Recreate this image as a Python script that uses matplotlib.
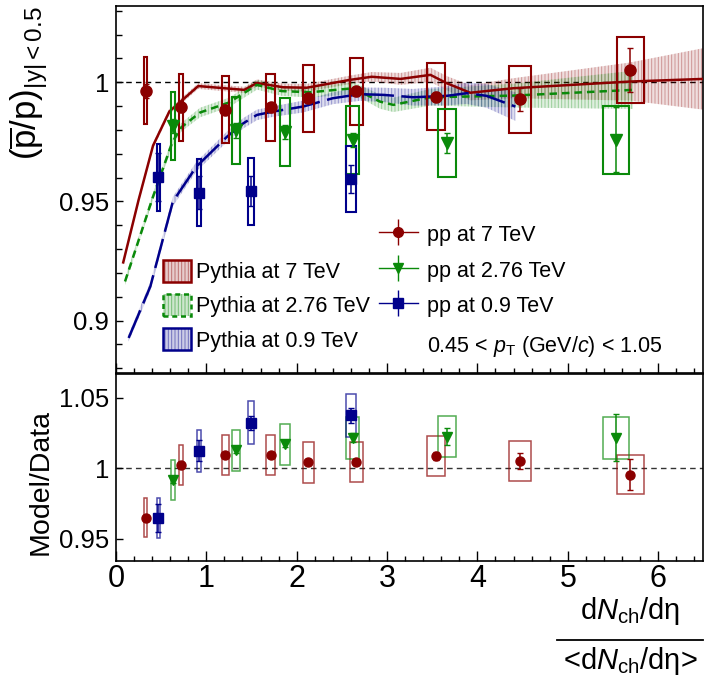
import numpy as np
import matplotlib.pyplot as plt
from matplotlib.patches import Rectangle, Patch
from matplotlib.lines import Line2D
from matplotlib.legend_handler import HandlerErrorbar
from matplotlib.ticker import MultipleLocator, FixedLocator
from matplotlib.colors import to_rgba

plt.rcParams['font.family'] = ['Liberation Sans', 'DejaVu Sans']
plt.rcParams['mathtext.fontset'] = 'custom'
plt.rcParams['mathtext.rm'] = 'Liberation Sans'
plt.rcParams['mathtext.it'] = 'Liberation Sans:italic'
plt.rcParams['mathtext.bf'] = 'Liberation Sans:bold'
plt.rcParams['hatch.linewidth'] = 0.7

# --- data: pbar/p vs dNch/deta / <dNch/deta> ---
x_7 = [0.33, 0.72, 1.21, 1.71, 2.13, 2.66, 3.54, 4.47, 5.69]
ratio_7 = [0.9964, 0.9895, 0.9885, 0.9895, 0.9932, 0.9962, 0.9940, 0.9929, 1.0051]
stat_7 = [0.003, 0.002, 0.002, 0.002, 0.002, 0.002, 0.002, 0.0048, 0.0094]
sys_7 = [0.014, 0.014, 0.014, 0.014, 0.014, 0.014, 0.014, 0.014, 0.014]

x_276 = [0.63, 1.33, 1.87, 2.62, 3.66, 5.53]
ratio_276 = [0.9815, 0.9798, 0.9790, 0.9757, 0.9745, 0.9759]
stat_276 = [0.003, 0.003, 0.003, 0.003, 0.0042, 0.0137]
sys_276 = [0.0142, 0.0142, 0.0142, 0.0142, 0.0142, 0.0142]

x_09 = [0.47, 0.92, 1.49, 2.60]
ratio_09 = [0.9601, 0.9537, 0.9543, 0.9594]
stat_09 = [0.0101, 0.007, 0.0062, 0.006]
sys_09 = [0.014, 0.014, 0.014, 0.014]

# --- Pythia curves ---
py_x_7 = [0.08, 0.25, 0.41, 0.59, 0.91, 1.42, 1.56, 1.85, 2.11, 2.59, 2.83, 3.15, 3.48, 3.66, 3.92, 4.40, 5.69, 6.50]
py_y_7 = [0.9244, 0.9506, 0.9734, 0.9877, 0.9984, 0.9968, 0.9997, 0.9979, 0.9977, 1.0010, 1.0023, 1.0014,
          1.0031, 0.9996, 0.9956, 0.9975, 1.0003, 1.0014]
py_band_7 = [0.0012, 0.0012, 0.0012, 0.0012, 0.0012, 0.0013, 0.0015, 0.0015, 0.0016, 0.0018, 0.002, 0.0025,
             0.003, 0.003, 0.0032, 0.0042, 0.008, 0.0129]

py_x_276 = [0.10, 0.41, 0.62, 0.72, 0.93, 1.25, 1.56, 1.83, 2.15, 2.63, 2.92, 3.07, 3.48, 4.40, 5.72]
py_y_276 = [0.9164, 0.9520, 0.9745, 0.9810, 0.9873, 0.9915, 0.9989, 0.9963, 0.9958, 0.9975, 0.9919, 0.9905,
            0.9937, 0.9944, 0.9968]
py_band_276 = [0.0015, 0.0015, 0.0018, 0.0018, 0.002, 0.002, 0.002, 0.002, 0.0022, 0.0025, 0.003, 0.003,
               0.0035, 0.005, 0.008]

py_x_09 = [0.14, 0.38, 0.63, 0.89, 1.23, 1.41, 1.56, 1.74, 2.07, 2.40, 2.70, 2.96, 3.29, 3.66, 3.88, 4.10, 4.42]
py_y_09 = [0.8927, 0.9143, 0.9500, 0.9646, 0.9772, 0.9828, 0.9863, 0.9877, 0.9898, 0.9933, 0.9950, 0.9947,
           0.9937, 0.9943, 0.9954, 0.9943, 0.9898]
py_band_09 = [0.0015, 0.0018, 0.002, 0.002, 0.0022, 0.0022, 0.0022, 0.0022, 0.0025, 0.0025, 0.0028, 0.003,
              0.0035, 0.004, 0.0045, 0.005, 0.006]

# --- model / data ---
md_7 = [0.9647, 1.0021, 1.0093, 1.0093, 1.0041, 1.0045, 1.0085, 1.0049, 0.9954]
md_stat_7 = [0.002, 0.002, 0.002, 0.002, 0.002, 0.002, 0.003, 0.0058, 0.011]
md_sys_7 = [0.0138, 0.0143, 0.0143, 0.0143, 0.0143, 0.0142, 0.0143, 0.0143, 0.014]

md_276 = [0.9917, 1.0128, 1.0170, 1.0216, 1.0224, 1.0216]
md_stat_276 = [0.002, 0.002, 0.002, 0.0033, 0.0059, 0.0166]
md_sys_276 = [0.0142, 0.0147, 0.0147, 0.015, 0.0147, 0.0148]

md_09 = [0.9647, 1.0125, 1.0323, 1.0376]
md_stat_09 = [0.010, 0.0074, 0.0048, 0.0055]
md_sys_09 = [0.0142, 0.015, 0.0154, 0.0153]

RED, GREEN, BLUE = '#8b0000', '#0a8a0a', '#00008b'


def draw_points(ax, x, y, stat, sys, color, marker, ms, wfrac, box_lw, box_alpha):
    for xi, yi, si in zip(x, y, sys):
        w = wfrac * xi + 0.015
        ax.add_patch(Rectangle((xi - w / 2, yi - si), w, 2 * si, fill=False,
                               edgecolor=color, lw=box_lw, alpha=box_alpha, zorder=4))
    ax.errorbar(x, y, yerr=stat, fmt=marker, color=color, ms=ms, elinewidth=1.1,
                capsize=2.5, capthick=1.0, zorder=5)


def draw_model(ax, x, y, band, color, ls):
    x = np.asarray(x)
    y = np.asarray(y)
    b = np.asarray(band)
    ax.fill_between(x, y - b, y + b, facecolor=to_rgba(color, 0.13),
                    edgecolor=to_rgba(color, 0.33), hatch='|||||', lw=0, zorder=2)
    ax.plot(x, y, color=color, ls=ls, lw=1.8, zorder=3)


fig = plt.figure(figsize=(7.06, 6.81), dpi=100)
ax_top = fig.add_axes([0.1643, 0.4523, 0.8319, 0.5389])
ax_bot = fig.add_axes([0.1643, 0.1762, 0.8319, 0.2746])

# --- top panel ---
ax_top.axhline(1.0, color='black', lw=1, ls=(0, (4, 3)), zorder=1)
draw_model(ax_top, py_x_7, py_y_7, py_band_7, RED, '-')
draw_model(ax_top, py_x_276, py_y_276, py_band_276, GREEN, (0, (3, 2)))
draw_model(ax_top, py_x_09, py_y_09, py_band_09, BLUE, (0, (12, 3)))

draw_points(ax_top, x_7, ratio_7, stat_7, sys_7, RED, 'o', 8, 0.05, 1.5, 1.0)
draw_points(ax_top, x_276, ratio_276, stat_276, sys_276, GREEN, 'v', 8, 0.05, 1.5, 1.0)
draw_points(ax_top, x_09, ratio_09, stat_09, sys_09, BLUE, 's', 7.5, 0.035, 1.5, 1.0)

ax_top.set_ylim(0.878, 1.032)
ax_top.yaxis.set_major_locator(FixedLocator([0.9, 0.95, 1.0]))
ax_top.set_yticklabels(['0.9', '0.95', '1'])
ax_top.yaxis.set_minor_locator(MultipleLocator(0.01))

# legends
def band_handle(color, ls):
    fill = Patch(facecolor=to_rgba(color, 0.2), edgecolor=to_rgba(color, 0.45), hatch='|||||', lw=0)
    edge = Patch(fill=False, edgecolor=color, lw=1.8, ls=ls)
    return (fill, edge)

leg1 = ax_top.legend([band_handle(RED, '-'), band_handle(GREEN, (0, (2, 1.5))), band_handle(BLUE, '-')],
                     ['Pythia at 7 TeV', 'Pythia at 2.76 TeV', 'Pythia at 0.9 TeV'],
                     loc='upper left', bbox_to_anchor=(0.080, 0.308), frameon=False, fontsize=15.5,
                     handlelength=1.3, handleheight=1.2, handletextpad=0.23, labelspacing=0.507,
                     borderpad=0, borderaxespad=0)
ax_top.add_artist(leg1)

proxies = []
for c, m in [(RED, 'o'), (GREEN, 'v'), (BLUE, 's')]:
    proxies.append(ax_top.errorbar([np.nan], [np.nan], yerr=[np.nan], fmt=m + '-', color=c, ms=7, lw=1, elinewidth=1))
ax_top.legend(proxies, ['pp at 7 TeV', 'pp at 2.76 TeV', 'pp at 0.9 TeV'],
              handler_map={type(proxies[0]): HandlerErrorbar(yerr_size=0.6)},
              loc='upper left', bbox_to_anchor=(0.448, 0.409), frameon=False, fontsize=15.5,
              handlelength=1.8, handleheight=1.2, handletextpad=0.42, labelspacing=0.57,
              borderpad=0, borderaxespad=0, numpoints=1)

ax_top.text(0.5295, 0.071, r'0.45 < $p_{\mathrm{T}}$ (GeV/$c$) < 1.05', transform=ax_top.transAxes,
            ha='left', va='center', fontsize=15.5)

ax_top.set_ylabel(r'$(\overline{\mathrm{p}}/\mathrm{p})_{\mathrm{|y|<0.5}}$', fontsize=25, loc='top')
ax_top.yaxis.set_label_coords(-0.112, 1.0)

# --- bottom panel ---
ax_bot.axhline(1.0, color='#333333', lw=1, ls=(0, (4, 3)), zorder=1)
draw_points(ax_bot, x_7, md_7, md_stat_7, md_sys_7, RED, 'o', 6.5, 0.05, 1.1, 0.7)
draw_points(ax_bot, x_276, md_276, md_stat_276, md_sys_276, GREEN, 'v', 7, 0.05, 1.1, 0.7)
draw_points(ax_bot, x_09, md_09, md_stat_09, md_sys_09, BLUE, 's', 6.5, 0.035, 1.1, 0.7)
ax_bot.set_ylim(0.934, 1.067)
ax_bot.yaxis.set_major_locator(FixedLocator([0.95, 1.0, 1.05]))
ax_bot.set_yticklabels(['0.95', '1', '1.05'])
ax_bot.set_ylabel('Model/Data', fontsize=20.5)
ax_bot.yaxis.set_label_coords(-0.107, 0.42)

for ax in (ax_top, ax_bot):
    ax.set_xlim(0, 6.5)
    ax.xaxis.set_major_locator(MultipleLocator(1))
    ax.xaxis.set_minor_locator(MultipleLocator(0.2))
    ax.tick_params(which='both', direction='in', top=False, right=False, width=1)
    ax.tick_params(axis='x', which='major', length=7)
    ax.tick_params(axis='x', which='minor', length=3.5)
    ax.tick_params(axis='y', which='major', length=5, labelsize=18.5, pad=5)
    ax.tick_params(axis='y', which='minor', length=4)
    for s in ax.spines.values():
        s.set_linewidth(1.2)

ax_top.tick_params(axis='x', labelbottom=False)
ax_bot.tick_params(axis='x', labelsize=22, pad=2)

# x title as a fraction
fig.text(630 / 706, 1 - 611 / 681, r'd$N_{\mathrm{ch}}$/dη', ha='center', va='center', fontsize=21)
fig.add_artist(Line2D([557 / 706, 703 / 706], [1 - 640 / 681, 1 - 640 / 681], color='black', lw=1.3,
                      transform=fig.transFigure))
fig.text(630 / 706, 1 - 661 / 681, r'<d$N_{\mathrm{ch}}$/dη>', ha='center', va='center', fontsize=21)

fig.savefig('out.png', dpi=100)
